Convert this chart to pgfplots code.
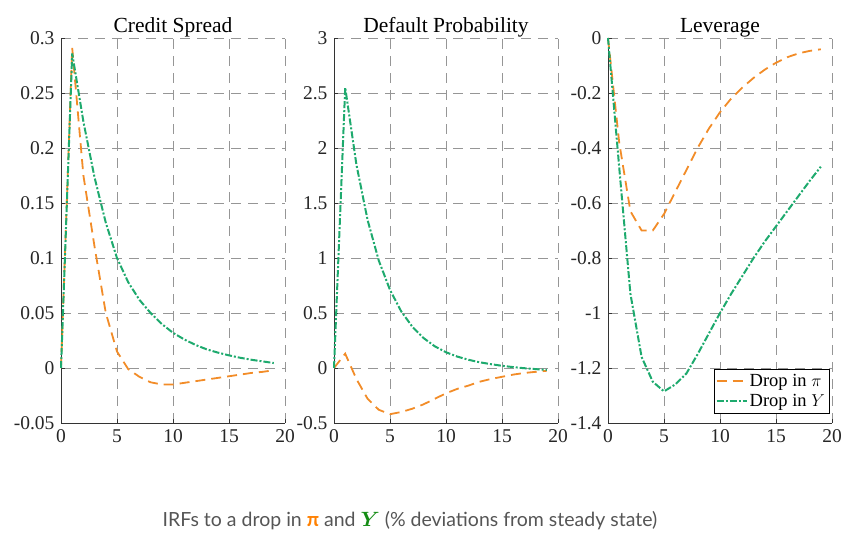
\documentclass[border=0pt]{standalone}
\usepackage{fontspec}
\setmainfont{Liberation Serif}
\newfontfamily\capfont{Lato}
\newfontfamily\tickfont{Liberation Serif}
\usepackage{bm}
\usepackage{pgfplots}
\pgfplotsset{compat=1.18}
\usepackage{pgfplotstable}
\definecolor{cOr}{RGB}{242,140,40}
\definecolor{cGr}{RGB}{30,170,110}
\definecolor{capOr}{RGB}{255,128,0}
\definecolor{capGr}{RGB}{20,140,20}
\definecolor{gridc}{RGB}{150,150,150}
\definecolor{capTxt}{RGB}{85,85,85}

\pgfplotstableread{
x cs dp lev
0 0 0 0
1 0.291 0.13 -0.38
2 0.175 -0.10 -0.63
3 0.11 -0.28 -0.70
4 0.05 -0.38 -0.70
5 0.015 -0.42 -0.64
6 -0.001 -0.40 -0.56
7 -0.008 -0.37 -0.48
8 -0.013 -0.33 -0.40
9 -0.015 -0.28 -0.33
10 -0.015 -0.23 -0.27
11 -0.0135 -0.19 -0.22
12 -0.012 -0.16 -0.18
13 -0.0105 -0.125 -0.145
14 -0.009 -0.10 -0.115
15 -0.0075 -0.08 -0.09
16 -0.006 -0.06 -0.07
17 -0.0045 -0.045 -0.056
18 -0.0035 -0.035 -0.047
19 -0.002 -0.025 -0.041
}\dropPi

\pgfplotstableread{
x cs dp lev
0 0 0 0
1 0.286 2.55 -0.47
2 0.224 1.85 -0.93
3 0.173 1.345 -1.16
4 0.132 0.976 -1.25
5 0.10 0.71 -1.285
6 0.078 0.515 -1.26
7 0.062 0.374 -1.22
8 0.050 0.272 -1.15
9 0.040 0.197 -1.075
10 0.032 0.143 -1.0
11 0.026 0.104 -0.93
12 0.021 0.075 -0.865
13 0.017 0.052 -0.80
14 0.014 0.035 -0.74
15 0.0115 0.02 -0.685
16 0.0093 0.008 -0.63
17 0.0075 -0.002 -0.575
18 0.006 -0.01 -0.52
19 0.0045 -0.018 -0.468
}\dropY

\pgfplotsset{
  irf/.style={
    scale only axis, width=224bp, height=385bp,
    anchor=south west,
    xmin=0, xmax=20, xtick={0,5,10,15,20},
    axis x line*=bottom, axis y line*=left,
    axis line style={-, draw=black!80, line width=0.9bp},
    tick style={black!80, line width=0.6bp},
    tick align=inside, major tick length=4bp,
    grid=major,
    major grid style={gridc, line width=0.8bp, dash pattern=on 10bp off 7bp},
    /pgf/number format/assume math mode=true,
    tick label style={font=\tickfont\fontsize{19.5bp}{21bp}\selectfont, black!85},
    yticklabel style={xshift=-3bp},
    xticklabel style={yshift=-3bp},
    title style={font=\rmfamily\fontsize{21.5bp}{23bp}\selectfont, yshift=-9bp},
    clip=false,
  },
  orl/.style={draw=cOr, line width=1.8bp, dash pattern=on 10bp off 6bp},
  grl/.style={draw=cGr, line width=2bp, dash pattern=on 7bp off 2bp on 2bp off 2bp},
}

\begin{document}
\begin{tikzpicture}
\useasboundingbox (0,0) rectangle (858bp,533bp);

\begin{axis}[irf, at={(61bp,110bp)}, title={Credit Spread},
  ymin=-0.05, ymax=0.3, ytick={-0.05,0,0.05,0.1,0.15,0.2,0.25,0.3},
  yticklabels={-0.05,0,0.05,0.1,0.15,0.2,0.25,0.3}]
\addplot[orl] table[x=x,y=cs]{\dropPi};
\addplot[grl] table[x=x,y=cs]{\dropY};
\end{axis}

\begin{axis}[irf, at={(334bp,110bp)}, title={Default Probability},
  ymin=-0.5, ymax=3, ytick={-0.5,0,0.5,1,1.5,2,2.5,3},
  yticklabels={-0.5,0,0.5,1,1.5,2,2.5,3}]
\addplot[orl] table[x=x,y=dp]{\dropPi};
\addplot[grl] table[x=x,y=dp]{\dropY};
\end{axis}

\begin{axis}[irf, at={(608bp,110bp)}, title={Leverage},
  ymin=-1.4, ymax=0, ytick={-1.4,-1.2,-1,-0.8,-0.6,-0.4,-0.2,0},
  yticklabels={-1.4,-1.2,-1,-0.8,-0.6,-0.4,-0.2,0},
  legend style={at={(0.987,0.026)}, anchor=south east,
    font=\rmfamily\fontsize{18.5bp}{20bp}\selectfont, draw=black,
    fill=white, inner xsep=2bp, inner ysep=2.5bp, row sep=3bp,
    cells={anchor=west}},
  legend cell align=left,
  legend image code/.code={\draw[#1] (0bp,0bp) -- (30bp,0bp);}]
\addplot[orl] table[x=x,y=lev]{\dropPi};
\addlegendentry{Drop in $\pi$}
\addplot[grl] table[x=x,y=lev]{\dropY};
\addlegendentry{Drop in $Y$}
\end{axis}

\node[anchor=base, font=\capfont\fontsize{19.5bp}{22bp}\selectfont, text=capTxt]
  at (410bp,7bp) {IRFs to a drop in \textcolor{capOr}{\bfseries π} and \textcolor{capGr}{$\bm{Y}$} (\% deviations from steady state)};
\end{tikzpicture}
\end{document}
